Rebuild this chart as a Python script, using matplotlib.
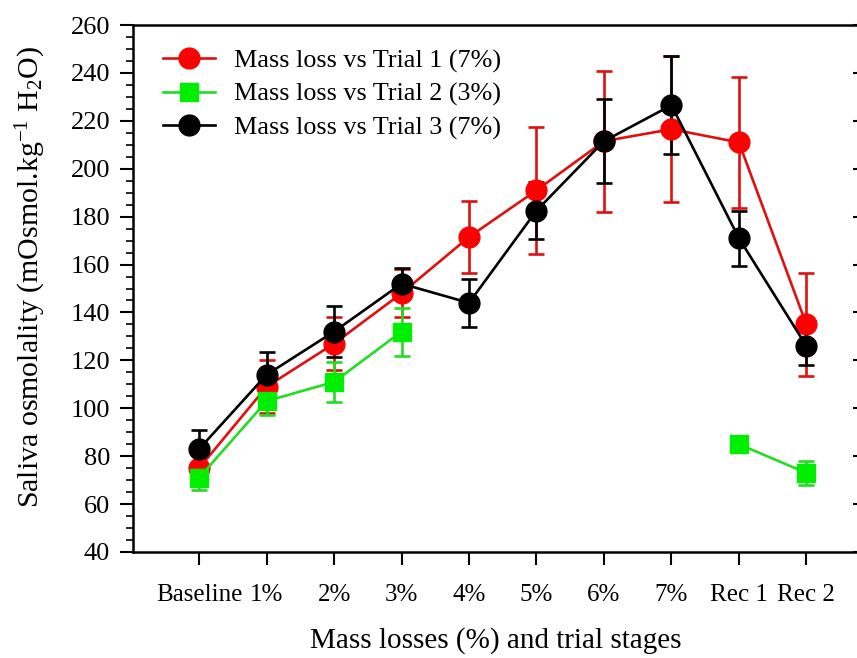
import numpy as np
import matplotlib
matplotlib.use("Agg")
import matplotlib.pyplot as plt
from matplotlib.ticker import MultipleLocator
from matplotlib.lines import Line2D

plt.rcParams['font.family'] = ['Liberation Serif', 'DejaVu Serif']
plt.rcParams['mathtext.fontset'] = 'custom'
plt.rcParams['mathtext.rm'] = 'Liberation Serif'
plt.rcParams['mathtext.it'] = 'Liberation Serif:italic'

categories = ['Baseline', '1%', '2%', '3%', '4%', '5%', '6%', '7%', 'Rec 1', 'Rec 2']

trial1 = [75, 109, 127, 148, 171.5, 191, 211.5, 216.5, 211, 135]
trial1_err = [6, 11, 11, 10, 15, 26.5, 29.5, 30.5, 27.5, 21.5]

trial2 = [71, 103, 111, 132, np.nan, np.nan, np.nan, np.nan, 85, 73]
trial2_err = [5, 6, 8.5, 10, np.nan, np.nan, np.nan, np.nan, 3, 5]

trial3 = [83, 114, 132, 152, 144, 182.5, 211.5, 226.5, 171, 126]
trial3_err = [8, 9.5, 10.5, 6.5, 10, 12, 17.5, 20.5, 11.5, 8]

labels = ['Mass loss vs Trial 1 (7%)', 'Mass loss vs Trial 2 (3%)', 'Mass loss vs Trial 3 (7%)']

fig = plt.figure(figsize=(8.57, 6.58), dpi=100)
ax = fig.add_axes([133/857, 1-552/658, (859-133)/857, (552-25)/658])

x = np.arange(len(categories))
series = [
    (trial1, trial1_err, '#ff0000', '#e01010', 'o', 15),
    (trial2, trial2_err, '#00ee00', '#22dd22', 's', 12.5),
    (trial3, trial3_err, '#000000', '#000000', 'o', 15),
]
handles = []
for (vals, errs, mc, lc, mk, ms), lab in zip(series, labels):
    ax.errorbar(x, vals, yerr=errs, color=lc, marker=mk, markersize=ms,
                markerfacecolor=mc, markeredgecolor=mc, linewidth=1.9,
                elinewidth=1.9, capsize=6, capthick=1.9)
    handles.append(Line2D([], [], color=lc, marker=mk, markersize=ms,
                          markerfacecolor=mc, markeredgecolor=mc, linewidth=1.9))

ax.set_xlim(-0.98, 9.78)
ax.set_ylim(40, 260)
ax.set_xticks(x)
ax.set_xticklabels(categories)
ax.yaxis.set_major_locator(MultipleLocator(20))
ax.yaxis.set_minor_locator(MultipleLocator(5))

ax.tick_params(axis='x', which='major', direction='out', length=9, width=1.5,
               labelsize=18, pad=14)
ax.tick_params(axis='y', which='major', direction='out', length=9.5, width=1.5,
               labelsize=19, pad=7)
ax.tick_params(axis='y', which='minor', direction='out', length=5, width=1.2)
for sp in ax.spines.values():
    sp.set_linewidth(1.8)

sec = ax.secondary_yaxis('right')
sec.yaxis.set_major_locator(MultipleLocator(20))
sec.tick_params(axis='y', which='major', direction='in', length=4, width=1.5,
                labelright=False)
sec.spines['right'].set_linewidth(1.8)

ax.set_xlabel('Mass losses (%) and trial stages', fontsize=21, labelpad=15)
ax.set_ylabel('Saliva osmolality (mOsmol.kg$^{-1}$ H$_2$O)', fontsize=21.5)
ax.yaxis.set_label_coords(-0.117, 0.522)

ax.legend(handles=handles, labels=labels, loc='upper left',
          bbox_to_anchor=(150/857, 1-36/658), bbox_transform=fig.transFigure,
          frameon=False, fontsize=18.8, handlelength=2.0, handletextpad=0.72,
          labelspacing=0.38, borderpad=0)

fig.savefig('out.png', dpi=100)
